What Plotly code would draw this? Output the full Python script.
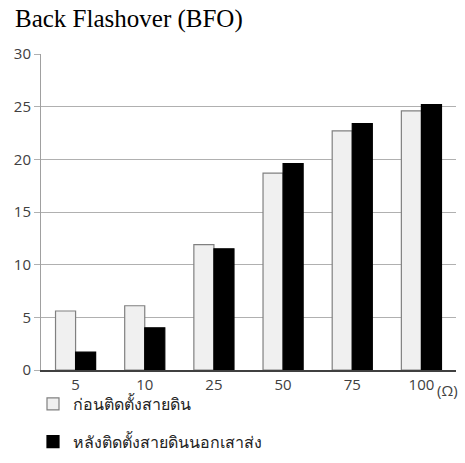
import plotly.graph_objects as go

categories = ["5", "10", "25", "50", "75", "100"]
before = [5.6, 6.1, 11.9, 18.7, 22.7, 24.6]
after = [1.7, 4.0, 11.5, 19.6, 23.4, 25.2]
series_names = ["ก่อนติดตั้งสายดิน", "หลังติดตั้งสายดินนอกเสาส่ง"]

W, H = 465, 463
L, R = 41, 456
T, B = 54, 370


def px_x(p):
    return (p - L) / (R - L)


def px_y(p):
    return (H - p) / H


fig = go.Figure()
fig.add_trace(go.Bar(x=categories, y=before, name=series_names[0], legendgroup="a",
                     marker=dict(color="#f0f0f0", line=dict(color="#808080", width=1.2))))
fig.add_trace(go.Bar(x=categories, y=after, name=series_names[1], legendgroup="b",
                     marker=dict(color="#000000", line=dict(color="#000000", width=1.2))))

fig.update_layout(
    width=W, height=H,
    margin=dict(l=L, r=W - R, t=0, b=0, autoexpand=False),
    paper_bgcolor="white", plot_bgcolor="white",
    barmode="group", bargap=0.42, bargroupgap=0.0,
    font=dict(family="Open Sans, Noto Sans, sans-serif", size=15, color="#404040"),
    showlegend=True,
    legend=dict(orientation="v", x=px_x(33), xanchor="left", y=px_y(387), yanchor="top",
                tracegroupgap=14, itemwidth=30, font=dict(size=16, color="#222222"),
                bgcolor="rgba(0,0,0,0)"),
    xaxis=dict(type="category", showgrid=False, showline=True, linecolor="#404040",
               linewidth=1.5, ticks="", tickfont=dict(size=15), automargin=False),
    yaxis=dict(domain=[px_y(B), px_y(T)], range=[0, 30], dtick=5, showgrid=True,
               gridcolor="#b0b0b0", gridwidth=1, automargin=False,
               showline=True, linecolor="#a0a0a0", linewidth=1, ticks="outside",
               ticklen=6, tickcolor="#b0b0b0", zeroline=False, tickfont=dict(size=15)),
    annotations=[
        dict(text="Back Flashover (BFO)", x=px_x(13), y=px_y(19), xref="paper", yref="paper",
             showarrow=False, font=dict(family="Liberation Serif, Times New Roman, serif",
                                        size=25, color="#000000"),
             xanchor="left", yanchor="middle"),
        dict(text="(Ω)", x=px_x(435), y=px_y(390), xref="paper", yref="paper",
             showarrow=False, xanchor="left", yanchor="middle",
             font=dict(size=15, color="#404040")),
    ],
)

fig.write_html("out.html", config={"displayModeBar": False},
               post_script="document.body.style.margin='0';document.body.style.padding='0';")
